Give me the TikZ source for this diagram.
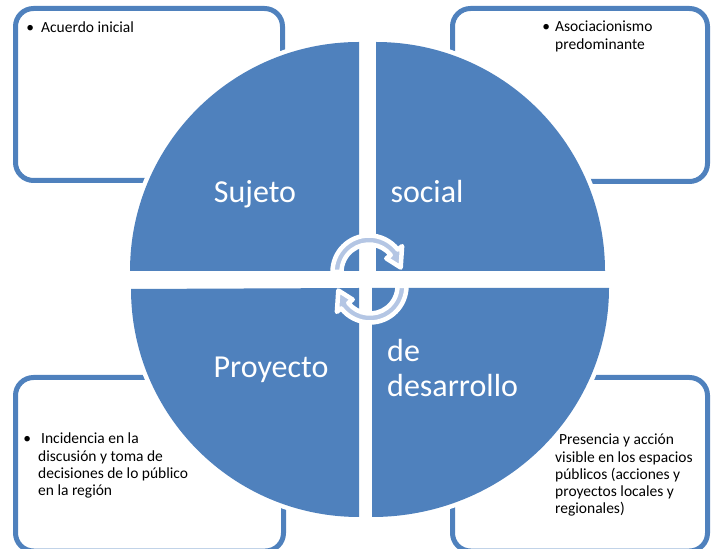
\documentclass[tikz,border=0pt]{standalone}
\usepackage{fontspec}
\setmainfont{Carlito}
\usetikzlibrary{calc}
\definecolor{quadblue}{HTML}{4F81BD}
\definecolor{arrowpale}{HTML}{B4C6E4}
\tikzset{
  infobox/.style={draw=quadblue, line width=5pt, rounded corners=18pt},
  quadrant/.style={fill=quadblue, preaction={draw=white, line width=9pt}},
  biglabel/.style={text=white, font=\fontsize{32}{35}\selectfont, inner sep=0pt},
  smalltext/.style={font=\fontsize{15.5}{17.2}\selectfont, align=left, inner sep=0pt},
  cyclearrow/.style={fill=arrowpale, draw=white, line width=4.5pt, line join=round}
}

\begin{document}
\begin{tikzpicture}[x=1pt, y=1pt]
  \clip (0,0) rectangle (711,548);
  % boxes behind the circle
  \draw[infobox] (15.5,539.5) rectangle (282.5,367.5);
  \draw[infobox] (452.5,539.5) rectangle (707.5,366.5);
  \draw[infobox] (15.5,170.5) rectangle (283.5,-3);
  \draw[infobox] (452.5,170.5) rectangle (707.5,-3);

  % four quarters
  \path[quadrant] (359,277) -- ++(180:229) arc[start angle=180, end angle=90, radius=229pt] -- cycle;
  \path[quadrant] (376,277) -- ++(90:229) arc[start angle=90, end angle=0, radius=229pt] -- cycle;
  \path[quadrant] (359,260) -- ++(270:229) arc[start angle=270, end angle=180, radius=228pt] -- cycle;
  \path[quadrant] (372,260) -- ++(0:237) arc[start angle=0, end angle=-90, x radius=237pt, y radius=229pt] -- cycle;

  \node[biglabel] (suj) at (255,354) {Sujeto};
  \node[biglabel] (soc) at (427,356) {social};
  \node[biglabel] (pro) at (271,178) {Proyecto};
  \node[biglabel, anchor=west, align=left] (des) at (387,180) {de\\desarrollo};

  % texts in the boxes
  \node[smalltext, anchor=base west] (acu) at (41,515) {\llap{\textbullet\hspace{7pt}}Acuerdo inicial};
  \node[smalltext, anchor=north west] (aso) at (555,527) {\llap{\textbullet\hspace{5pt}}Asociacionismo\\predominante};
  \node[smalltext, anchor=north west] (inc) at (38,115) {\llap{\textbullet\hspace{7pt}}\hspace{3pt}Incidencia en la\\discusión y toma de\\decisiones de lo público\\en la región};
  \node[smalltext, anchor=north west] (pre) at (555,114) {\hspace{4pt}Presencia y acción\\visible en los espacios\\públicos (acciones y\\proyectos locales y\\regionales)};

  % circular arrows
  \coordinate (ca) at (369,276);
  \coordinate (cb) at (370,262);
  \filldraw[cyclearrow] ($(ca)+(180:36.5)$) arc[start angle=180, end angle=38, radius=36.5pt]
    -- ($(ca)+(38:42)$) -- ($(ca)+(8:32)$) -- ($(ca)+(38:22)$) -- ($(ca)+(38:27.5)$)
    arc[start angle=38, end angle=180, radius=27.5pt] -- cycle;
  \filldraw[cyclearrow] ($(cb)+(0:36.5)$) arc[start angle=0, end angle=-142, radius=36.5pt]
    -- ($(cb)+(218:42)$) -- ($(cb)+(188:32)$) -- ($(cb)+(218:22)$) -- ($(cb)+(218:27.5)$)
    arc[start angle=-142, end angle=0, radius=27.5pt] -- cycle;
\end{tikzpicture}
\end{document}
